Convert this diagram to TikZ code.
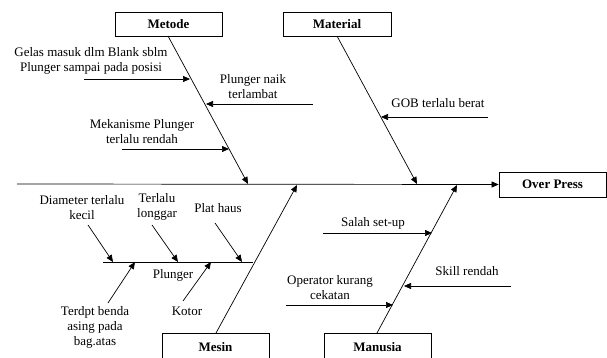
\documentclass[tikz,border=0pt]{standalone}
\usepackage{fontspec}
\setmainfont{Liberation Serif}
\usetikzlibrary{arrows.meta}
\begin{document}
\begin{tikzpicture}[x=1pt,y=-1pt,
  catbox/.style={draw,line width=0.8pt,font=\fontsize{13}{15}\selectfont\bfseries,inner sep=0pt},
  lbl/.style={font=\fontsize{13}{15}\selectfont,align=center,inner sep=0pt},
  bone/.style={line width=0.7pt,-{Triangle[length=7pt,width=6pt]}},
  cause/.style={line width=0.7pt,-{Triangle[length=7pt,width=6pt]}},
  ]
\useasboundingbox (0,0) rectangle (607,358);
% category boxes
\node[catbox,minimum width=107pt,minimum height=24pt] (metode) at (168.5,24) {Metode};
\node[catbox,minimum width=108pt,minimum height=24pt] (material) at (337,24) {Material};
\node[catbox,minimum width=107pt,minimum height=25pt] (effect) at (552.5,184.5) {Over Press};
\draw[line width=0.8pt] (162,362) |- (269,333) -- (269,362);
\draw[line width=0.8pt] (324,362) |- (431,333) -- (431,362);
\node[font=\fontsize{13}{15}\selectfont\bfseries] (mesin) at (215.5,347) {Mesin};
\node[font=\fontsize{13}{15}\selectfont\bfseries] (manusia) at (377.5,347) {Manusia};
% spine
\coordinate (tail) at (17,184);
\draw[bone] (tail) -- (effect.west);
% bones
\coordinate (m1) at (168,36);
\coordinate (m2) at (248,184);
\draw[bone] (m1) -- (m2);
\coordinate (a1) at (337,36);
\coordinate (a2) at (417,184);
\draw[bone] (a1) -- (a2);
\coordinate (s1) at (216,333);
\coordinate (s2) at (297,185);
\draw[bone] (s1) -- (s2);
\coordinate (u1) at (377,333);
\coordinate (u2) at (457,185);
\draw[bone] (u1) -- (u2);
% Metode causes
\node[lbl] (c1) at (91,60.5) {Gelas masuk dlm Blank sblm\\Plunger sampai pada posisi};
\coordinate (c1a) at (84,79); \coordinate (c1b) at (190,79);
\draw[cause] (c1a) -- (c1b);
\node[lbl] (c2) at (253,86.5) {Plunger naik\\terlambat};
\coordinate (c2a) at (313,104); \coordinate (c2b) at (206,104);
\draw[cause] (c2a) -- (c2b);
\node[lbl] (c3) at (142,132) {Mekanisme Plunger\\terlalu rendah};
\coordinate (c3a) at (122,149); \coordinate (c3b) at (229,149);
\draw[cause] (c3a) -- (c3b);
% Material cause
\node[lbl] (c4) at (438,103) {GOB terlalu berat};
\coordinate (c4a) at (488,117); \coordinate (c4b) at (381,117);
\draw[cause] (c4a) -- (c4b);
% Mesin sub-branch
\coordinate (p1) at (103,262); \coordinate (p2) at (253,262);
\draw[line width=0.7pt] (p1) -- (p2);
\node[lbl] (plunger) at (173,275) {Plunger};
\node[lbl] (d1) at (82,208) {Diameter terlalu\\kecil};
\coordinate (d1a) at (88,225); \coordinate (d1b) at (113,262);
\draw[cause] (d1a) -- (d1b);
\node[lbl] (d2) at (157,207) {Terlalu\\longgar};
\coordinate (d2a) at (152,225); \coordinate (d2b) at (178,262);
\draw[cause] (d2a) -- (d2b);
\node[lbl] (d3) at (218,208) {Plat haus};
\coordinate (d3a) at (215,223); \coordinate (d3b) at (242,262);
\draw[cause] (d3a) -- (d3b);
\node[lbl] (d4) at (95,327) {Terdpt benda\\asing pada\\bag.atas};
\coordinate (d4a) at (108,303); \coordinate (d4b) at (135,262);
\draw[cause] (d4a) -- (d4b);
\node[lbl] (d5) at (187,311) {Kotor};
\coordinate (d5a) at (183,301); \coordinate (d5b) at (211,262);
\draw[cause] (d5a) -- (d5b);
% Manusia causes
\node[lbl] (e1) at (373,223) {Salah set-up};
\coordinate (e1a) at (323,233); \coordinate (e1b) at (432,233);
\draw[cause] (e1a) -- (e1b);
\node[lbl] (e2) at (467,271) {Skill rendah};
\coordinate (e2a) at (511,286); \coordinate (e2b) at (404,286);
\draw[cause] (e2a) -- (e2b);
\node[lbl] (e3) at (330,288) {Operator kurang\\cekatan};
\coordinate (e3a) at (286,305); \coordinate (e3b) at (393,305);
\draw[cause] (e3a) -- (e3b);
\end{tikzpicture}
\end{document}
